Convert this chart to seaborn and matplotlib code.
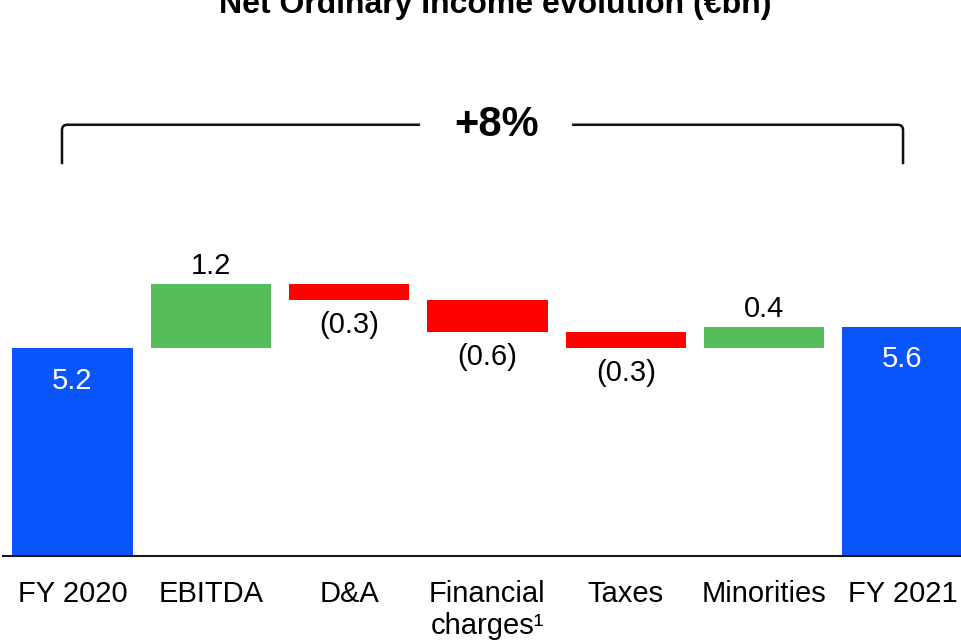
import numpy as np
import pandas as pd
import matplotlib
matplotlib.use("Agg")
import matplotlib.pyplot as plt
import seaborn as sns
from matplotlib.path import Path
from matplotlib.patches import PathPatch

# ---------------- data ----------------
categories = ["FY 2020", "EBITDA", "D&A", "Financial\ncharges\u00b9", "Taxes", "Minorities", "FY 2021"]
start_value = 5.2
deltas = [1.2, -0.3, -0.6, -0.3, 0.4]
end_value = 5.6
value_labels = ["5.2", "1.2", "(0.3)", "(0.6)", "(0.3)", "0.4", "5.6"]
title_text = "Net Ordinary Income evolution (\u20acbn)"
growth_text = "+8%"

# ---------------- style ----------------
sns.set_style("white")
plt.rcParams["font.family"] = ["Liberation Sans", "DejaVu Sans"]

BLUE = "#0A55FB"
GREEN = "#57BD5B"
RED = "#FF0000"

# waterfall geometry derived from data
tops, lows, colors = [start_value], [0.0], [BLUE]
level = start_value
for d in deltas:
    new = level + d
    tops.append(max(level, new))
    lows.append(min(level, new))
    colors.append(GREEN if d >= 0 else RED)
    level = new
tops.append(end_value)
lows.append(0.0)
colors.append(BLUE)

df = pd.DataFrame({"cat": categories, "top": tops, "low": lows})

fig = plt.figure(figsize=(9.61, 6.40), dpi=100)
ax = fig.add_axes([3 / 961, 84 / 640, 958 / 961, 556 / 640])

sns.barplot(data=df, x="cat", y="top", hue="cat", order=categories, hue_order=categories,
            palette=colors, width=0.87, dodge=False, legend=False, saturation=1,
            linewidth=0, ax=ax)
sns.barplot(data=df, x="cat", y="low", order=categories, color="white", width=0.9,
            saturation=1, linewidth=0, ax=ax)

ax.set_xlim(-0.5025, 6.424)
ax.set_ylim(1.3, 11.73)
ax.set_xlabel("")
ax.set_ylabel("")
ax.set_yticks([])
for s in ["left", "right", "top"]:
    ax.spines[s].set_visible(False)
ax.spines["bottom"].set_color("#1a1a1a")
ax.spines["bottom"].set_linewidth(1.5)
ax.tick_params(axis="x", length=0, pad=17, labelsize=21, labelcolor="black")

# value labels
for i, (lab, t, lo) in enumerate(zip(value_labels, tops, lows)):
    if i == 0 or i == len(categories) - 1:
        ax.annotate(lab, (i, t), xytext=(0, -23.5), textcoords="offset points",
                    ha="center", va="center", color="white", fontsize=21)
    elif deltas[i - 1] >= 0:
        ax.annotate(lab, (i, t), xytext=(0, 7.2), textcoords="offset points",
                    ha="center", va="baseline", color="black", fontsize=21)
    else:
        ax.annotate(lab, (i, lo), xytext=(0, -7.5), textcoords="offset points",
                    ha="center", va="top", color="black", fontsize=21)

# bracket
xl, xr = -0.076, 6.005
y_top, y_low = 9.39, 8.65
rx, ry = 0.04, 0.1
gap_l, gap_r = 2.513, 3.612
verts = [(xl, y_low), (xl, y_top - ry), (xl, y_top), (xl + rx, y_top), (gap_l, y_top),
         (gap_r, y_top), (xr - rx, y_top), (xr, y_top), (xr, y_top - ry), (xr, y_low)]
codes = [Path.MOVETO, Path.LINETO, Path.CURVE3, Path.CURVE3, Path.LINETO,
         Path.MOVETO, Path.LINETO, Path.CURVE3, Path.CURVE3, Path.LINETO]
ax.add_patch(PathPatch(Path(verts, codes), fill=False, lw=1.8, edgecolor="#111111",
                       clip_on=False))
ax.text((gap_l + gap_r) / 2, 9.38, growth_text, ha="center", va="center",
        fontsize=30, fontweight="bold", color="black")

fig.text(495 / 961, 1 - 13 / 640, title_text, ha="center", va="baseline",
         fontsize=23, fontweight="bold", color="black")

fig.savefig("out.png", dpi=100)
